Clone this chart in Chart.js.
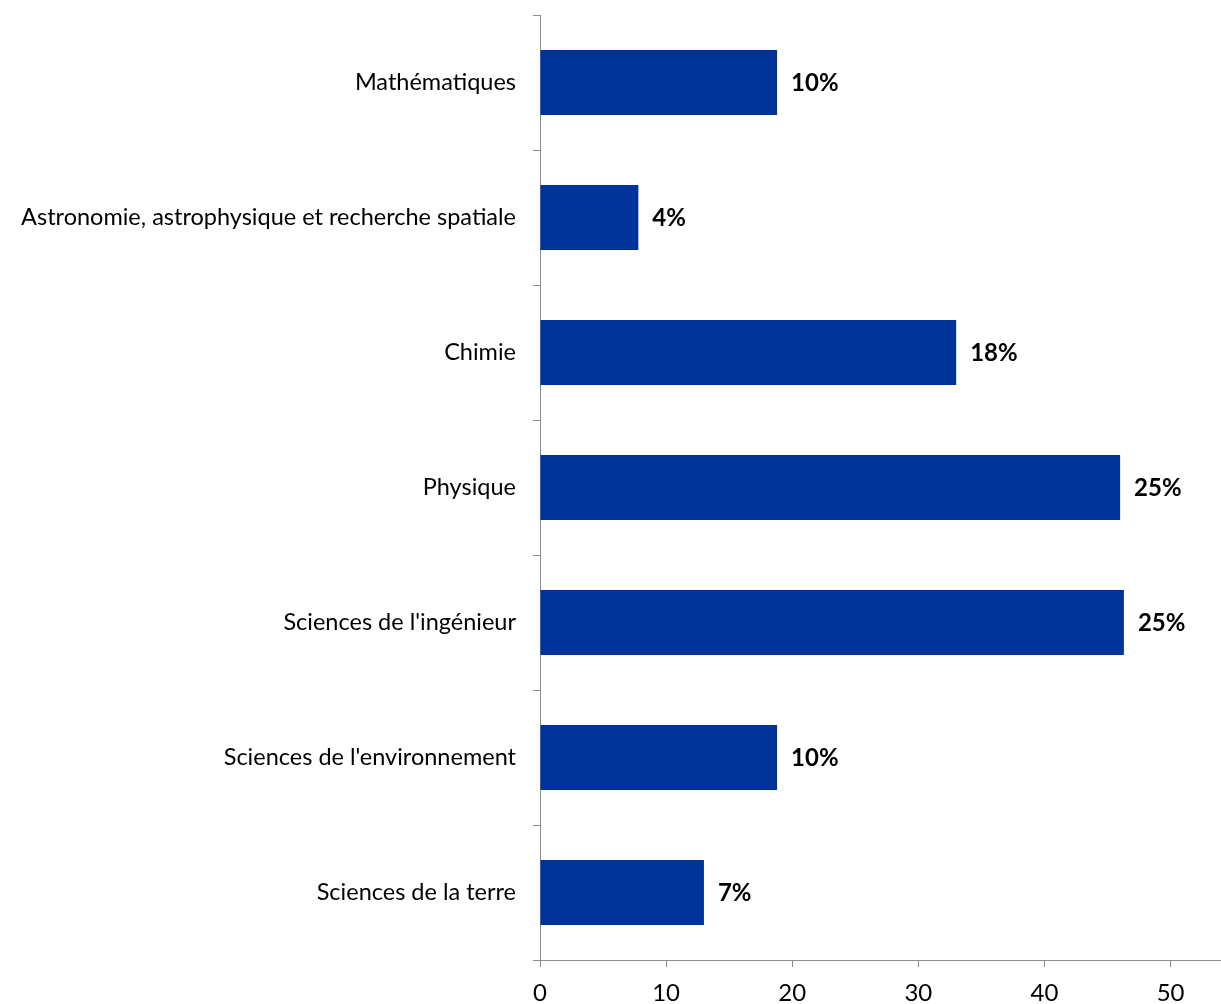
<!DOCTYPE html>
<html>
<head>
<meta charset="utf-8">
<script src="https://cdn.jsdelivr.net/npm/chart.js@4/dist/chart.umd.min.js"></script>
<style>
  body { margin: 0; background: #fff; }
  #wrap { width: 1221px; height: 1004px; position: relative; }
</style>
</head>
<body>
<div id="wrap"><canvas id="disciplinesChart"></canvas></div>
<script>
const categories = [
    'Mathématiques',
    'Astronomie, astrophysique et recherche spatiale',
    'Chimie',
    'Physique',
    "Sciences de l'ingénieur",
    "Sciences de l'environnement",
    'Sciences de la terre'
];
const values = [18.8, 7.8, 33, 46, 46.3, 18.8, 13];
const percentLabels = ['10%', '4%', '18%', '25%', '25%', '10%', '7%'];
const xTicks = [0, 10, 20, 30, 40, 50];

const FONT = 'Lato, "Open Sans", sans-serif';

// draws the bold % next to each bar
const barLabels = {
    id: 'barLabels',
    afterDatasetsDraw(chart) {
        const ctx = chart.ctx;
        const meta = chart.getDatasetMeta(0);
        ctx.save();
        ctx.font = 'bold 24px ' + FONT;
        ctx.fillStyle = '#000';
        ctx.textBaseline = 'middle';
        ctx.textAlign = 'left';
        meta.data.forEach((bar, i) => {
            ctx.fillText(percentLabels[i], bar.x + 14, bar.y + 1);
        });
        ctx.restore();
    }
};

document.addEventListener('DOMContentLoaded', () => {
    const ctx = document.getElementById('disciplinesChart').getContext('2d');
    new Chart(ctx, {
        type: 'bar',
        data: {
            labels: categories,
            datasets: [{
                data: values,
                backgroundColor: '#003399',
                barPercentage: 0.48,
                categoryPercentage: 1
            }]
        },
        options: {
            indexAxis: 'y',
            responsive: true,
            maintainAspectRatio: false,
            animation: false,
            layout: { padding: { top: 15, left: 0, right: 0, bottom: 0 } },
            plugins: {
                legend: { display: false },
                tooltip: { enabled: false }
            },
            scales: {
                x: {
                    min: 0,
                    max: 54,
                    afterFit: (scale) => { scale.height = 44; },
                    afterBuildTicks: (scale) => {
                        scale.ticks = xTicks.map(v => ({ value: v }));
                    },
                    border: { color: '#8c8c8c', width: 1 },
                    grid: {
                        drawOnChartArea: false,
                        drawTicks: true,
                        tickLength: 7,
                        color: '#8c8c8c'
                    },
                    ticks: {
                        color: '#000',
                        font: { family: FONT, size: 24 },
                        padding: 12
                    }
                },
                y: {
                    afterFit: (scale) => {
                        scale.width = 540;
                        scale.paddingTop = 0;
                        scale.paddingBottom = 0;
                    },
                    border: { color: '#8c8c8c', width: 1 },
                    grid: {
                        offset: true,
                        drawOnChartArea: false,
                        drawTicks: true,
                        tickLength: 7,
                        color: '#8c8c8c'
                    },
                    ticks: {
                        color: '#000',
                        font: { family: FONT, size: 23.5 },
                        padding: 17
                    }
                }
            }
        },
        plugins: [barLabels]
    });
});
</script>
</body>
</html>
